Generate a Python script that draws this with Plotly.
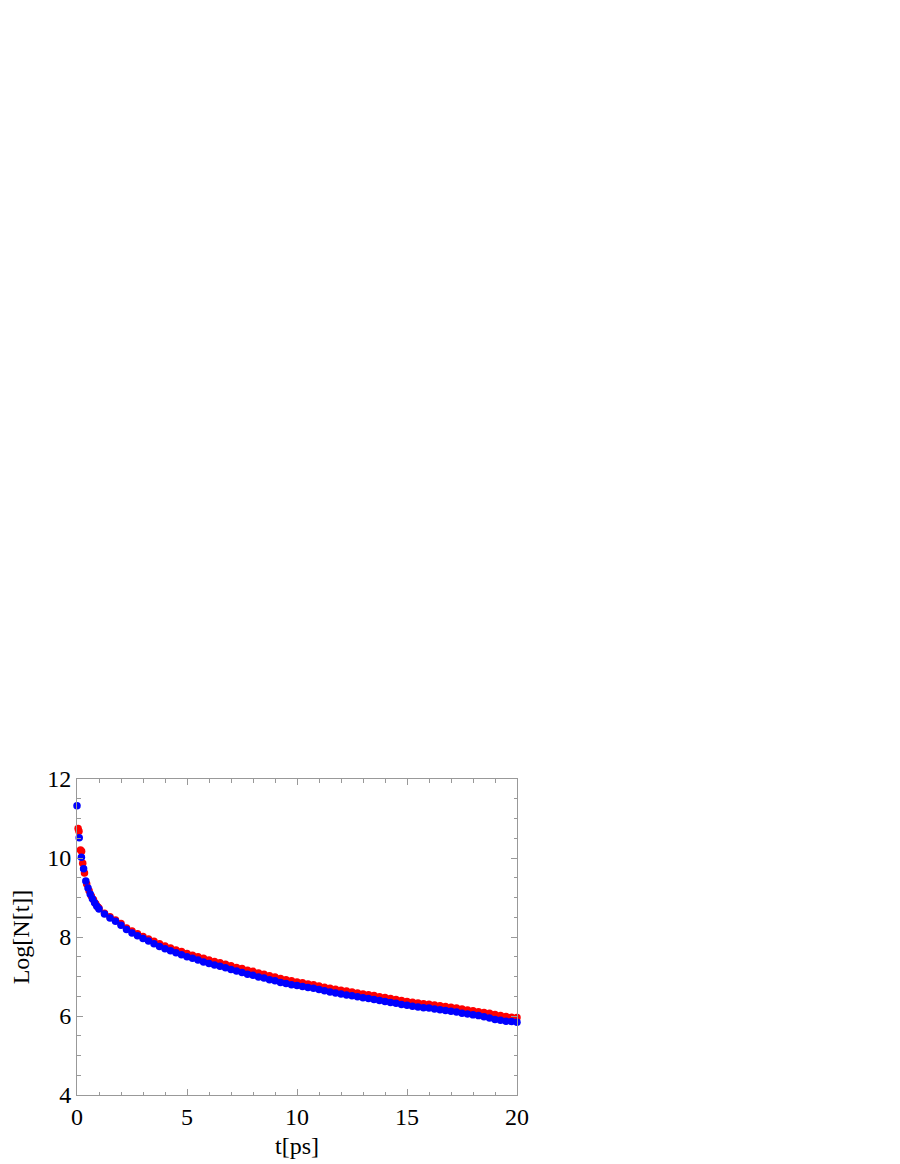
import plotly.graph_objects as go

# Blue series
t_blue = [0, 0.1, 0.2, 0.3, 0.4, 0.5, 0.6, 0.7, 0.8, 0.9, 1.0,
          1.25, 1.5, 1.75, 2.0, 2.25, 2.5, 2.75, 3.0, 3.25, 3.5, 3.75, 4.0,
          4.25, 4.5, 4.75, 5.0, 5.25, 5.5, 5.75, 6.0, 6.25, 6.5, 6.75, 7.0,
          7.25, 7.5, 7.75, 8.0, 8.25, 8.5, 8.75, 9.0, 9.25, 9.5, 9.75, 10.0,
          10.25, 10.5, 10.75, 11.0, 11.25, 11.5, 11.75, 12.0, 12.25, 12.5, 12.75, 13.0,
          13.25, 13.5, 13.75, 14.0, 14.25, 14.5, 14.75, 15.0, 15.25, 15.5, 15.75, 16.0,
          16.25, 16.5, 16.75, 17.0, 17.25, 17.5, 17.75, 18.0, 18.25, 18.5, 18.75, 19.0,
          19.25, 19.5, 19.75, 20.0]
logN_blue = [11.32, 10.51, 10.02, 9.73, 9.42, 9.24, 9.09, 8.97, 8.87, 8.78, 8.71,
             8.58, 8.48, 8.40, 8.30, 8.19, 8.10, 8.03, 7.96, 7.90, 7.83, 7.76, 7.70,
             7.65, 7.60, 7.55, 7.50, 7.46, 7.42, 7.37, 7.33, 7.29, 7.26, 7.22, 7.18,
             7.14, 7.10, 7.06, 7.03, 6.99, 6.96, 6.92, 6.89, 6.85, 6.82, 6.79, 6.77,
             6.75, 6.72, 6.70, 6.67, 6.64, 6.61, 6.58, 6.56, 6.53, 6.51, 6.49, 6.46,
             6.44, 6.42, 6.39, 6.37, 6.34, 6.32, 6.29, 6.27, 6.25, 6.23, 6.21, 6.20,
             6.18, 6.16, 6.14, 6.12, 6.10, 6.07, 6.05, 6.03, 6.01, 5.98, 5.95, 5.91,
             5.89, 5.87, 5.86, 5.84]

# Red series
t_red = [0.05, 0.09, 0.16, 0.21, 0.26, 0.34, 0.44, 0.55, 0.65, 0.75, 0.85, 0.95, 1.0,
         1.25, 1.5, 1.75, 2.0, 2.25, 2.5, 2.75, 3.0, 3.25, 3.5, 3.75, 4.0,
         4.25, 4.5, 4.75, 5.0, 5.25, 5.5, 5.75, 6.0, 6.25, 6.5, 6.75, 7.0,
         7.25, 7.5, 7.75, 8.0, 8.25, 8.5, 8.75, 9.0, 9.25, 9.5, 9.75, 10.0,
         10.25, 10.5, 10.75, 11.0, 11.25, 11.5, 11.75, 12.0, 12.25, 12.5, 12.75, 13.0,
         13.25, 13.5, 13.75, 14.0, 14.25, 14.5, 14.75, 15.0, 15.25, 15.5, 15.75, 16.0,
         16.25, 16.5, 16.75, 17.0, 17.25, 17.5, 17.75, 18.0, 18.25, 18.5, 18.75, 19.0,
         19.25, 19.5, 19.75, 20.0]
logN_red = [10.75, 10.68, 10.20, 10.17, 9.87, 9.62, 9.34, 9.17, 9.04, 8.94, 8.84, 8.76, 8.73,
            8.60, 8.51, 8.43, 8.34, 8.23, 8.15, 8.08, 8.01, 7.95, 7.89, 7.83, 7.77,
            7.72, 7.67, 7.63, 7.58, 7.54, 7.50, 7.46, 7.42, 7.38, 7.35, 7.31, 7.27,
            7.23, 7.20, 7.16, 7.13, 7.09, 7.06, 7.02, 6.99, 6.95, 6.92, 6.89, 6.86,
            6.84, 6.81, 6.79, 6.76, 6.73, 6.70, 6.68, 6.65, 6.63, 6.61, 6.58, 6.56,
            6.54, 6.52, 6.49, 6.47, 6.44, 6.42, 6.39, 6.37, 6.35, 6.33, 6.31, 6.30,
            6.28, 6.26, 6.24, 6.22, 6.20, 6.18, 6.15, 6.13, 6.11, 6.09, 6.07, 6.04,
            6.01, 5.99, 5.97, 5.96]

fig = go.Figure()
fig.add_trace(go.Scatter(x=t_red, y=logN_red, mode="markers",
                         marker=dict(color="#ff0000", size=7.5, line=dict(width=0)),
                         showlegend=False, cliponaxis=False))
fig.add_trace(go.Scatter(x=t_blue, y=logN_blue, mode="markers",
                         marker=dict(color="#0000ff", size=7.5, line=dict(width=0)),
                         showlegend=False, cliponaxis=False))

axis_common = dict(
    showgrid=False, zeroline=False, showline=True, linecolor="#999999", linewidth=1,
    mirror="allticks", ticks="inside", ticklen=6, tickwidth=1, tickcolor="#999999",
    tickfont=dict(family="Liberation Serif", size=24, color="black"),
)

fig.update_layout(
    width=900, height=1164,
    margin=dict(l=57, r=391, t=771, b=77),
    paper_bgcolor="white", plot_bgcolor="white",
    xaxis=dict(range=[0, 20], tickvals=[0, 5, 10, 15, 20],
               minor=dict(dtick=1, ticks="inside", ticklen=3.5, tickcolor="#999999"),
               title=dict(text="t[ps]", font=dict(family="Liberation Serif", size=24, color="black"),
                          standoff=8),
               **axis_common),
    yaxis=dict(range=[4, 12], tickvals=[4, 6, 8, 10, 12],
               minor=dict(dtick=0.5, ticks="inside", ticklen=3.5, tickcolor="#999999"),
               title=dict(text="Log[N[t]]", font=dict(family="Liberation Serif", size=24, color="black"),
                          standoff=10),
               **axis_common),
)

fig.write_html("out.html")
